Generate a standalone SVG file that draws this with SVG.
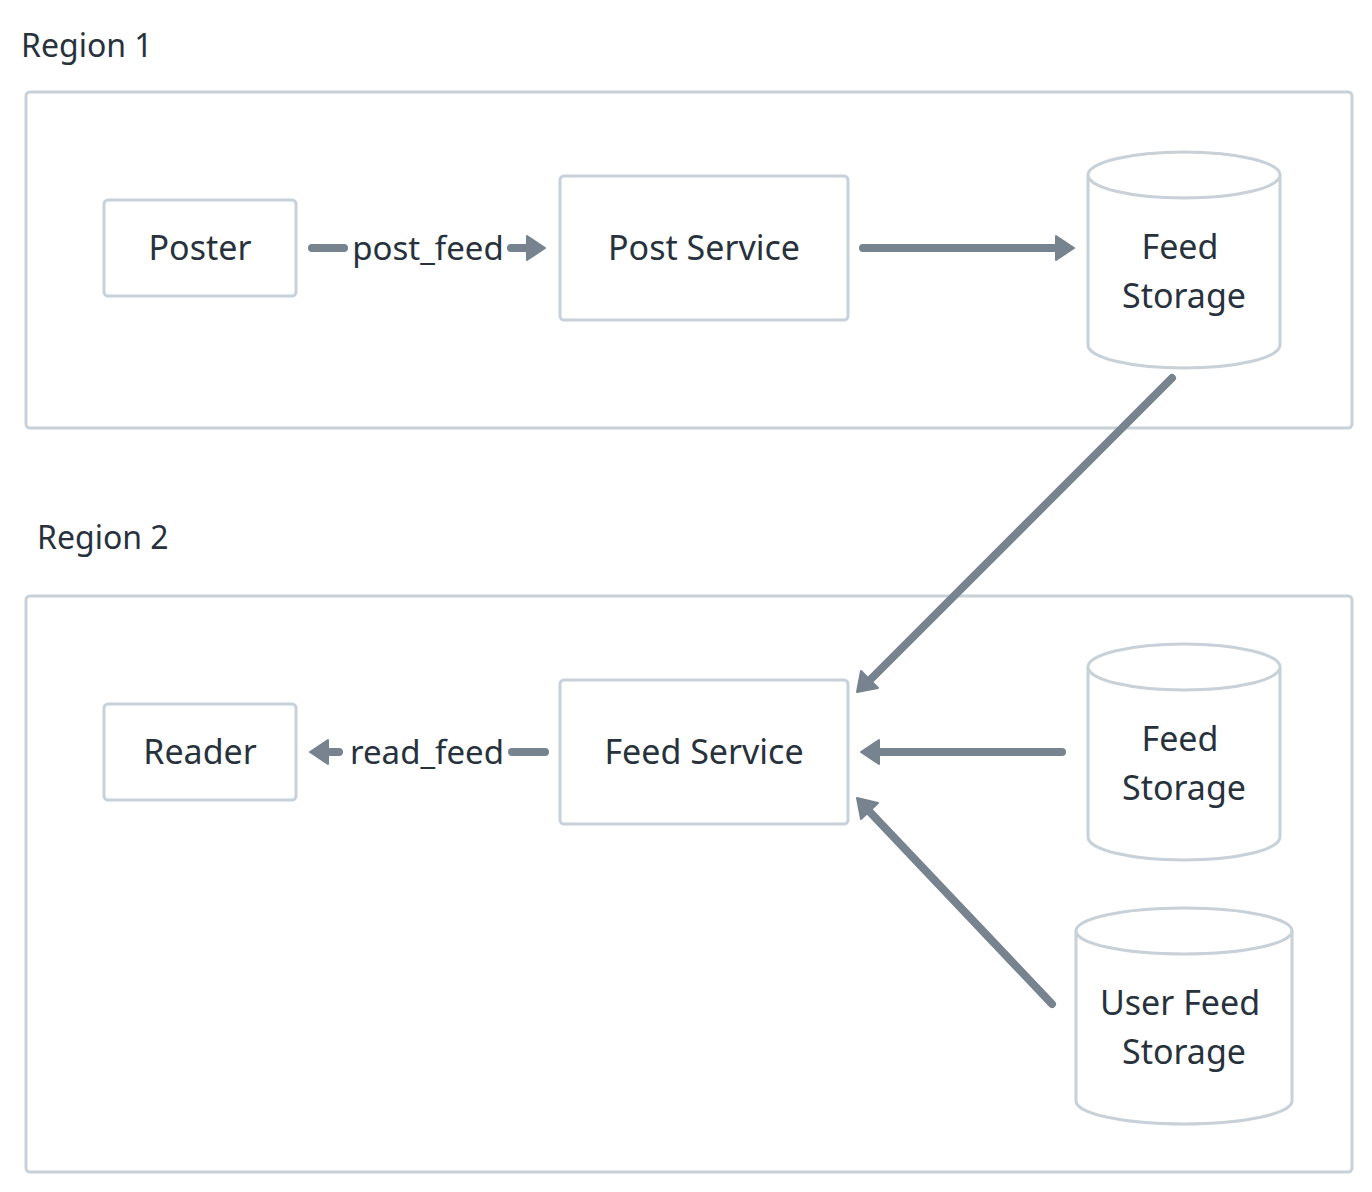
<svg xmlns="http://www.w3.org/2000/svg" width="1372" height="1192" viewBox="0 0 1372 1192">
<defs>
<style>
.region{fill:none;stroke:#c8d0d8;stroke-width:3}
.box{fill:#fff;stroke:#c8d0d8;stroke-width:3}
.t{font-family:"Noto Sans","DejaVu Sans",sans-serif;font-size:34px;fill:#27323d;text-anchor:middle}
.rt{font-family:"Noto Sans","DejaVu Sans",sans-serif;font-size:32px;fill:#27323d}
.edge{fill:none;stroke:#77838f;stroke-width:8;stroke-linecap:round}
.head{fill:#77838f;stroke:#77838f;stroke-width:2;stroke-linejoin:round}
.lbl{font-family:"Noto Sans","DejaVu Sans",sans-serif;font-size:33px;fill:#27323d;text-anchor:middle}
</style>
</defs>
<rect width="1372" height="1192" fill="#fff"/>
<text class="rt" x="21" y="57">Region 1</text>
<rect class="region" x="26" y="92" width="1326" height="336" rx="4"/>
<text class="rt" x="37" y="549">Region 2</text>
<rect class="region" x="26" y="596" width="1326" height="576" rx="4"/>

<g id="poster"><rect class="box" x="104" y="200" width="192" height="96" rx="4"/><text class="t" x="200" y="260">Poster</text></g>
<g id="post-service"><rect class="box" x="560" y="176" width="288" height="144" rx="4"/><text class="t" x="704" y="260">Post Service</text></g>
<g id="feed-storage-1"><path class="box" d="M1088,175 L1088,345 A96,23 0 0 0 1280,345 L1280,175 A96,23 0 0 0 1088,175 Z"/><path class="box" fill="none" d="M1088,175 A96,23 0 0 0 1280,175"/><text class="t" x="1180" y="259">Feed</text><text class="t" x="1184" y="308">Storage</text></g>

<g id="reader"><rect class="box" x="104" y="704" width="192" height="96" rx="4"/><text class="t" x="200" y="764">Reader</text></g>
<g id="feed-service"><rect class="box" x="560" y="680" width="288" height="144" rx="4"/><text class="t" x="704" y="764">Feed Service</text></g>
<g id="feed-storage-2"><path class="box" d="M1088,667 L1088,837 A96,23 0 0 0 1280,837 L1280,667 A96,23 0 0 0 1088,667 Z"/><path class="box" fill="none" d="M1088,667 A96,23 0 0 0 1280,667"/><text class="t" x="1180" y="751">Feed</text><text class="t" x="1184" y="800">Storage</text></g>
<g id="user-feed-storage"><path class="box" d="M1076,931 L1076,1101 A108,23 0 0 0 1292,1101 L1292,931 A108,23 0 0 0 1076,931 Z"/><path class="box" fill="none" d="M1076,931 A108,23 0 0 0 1292,931"/><text class="t" x="1180" y="1015">User Feed</text><text class="t" x="1184" y="1064">Storage</text></g>

<g id="connectors">
<line class="edge" x1="312" y1="248" x2="344" y2="248"/>
<line class="edge" x1="511" y1="248" x2="528" y2="248"/>
<polygon class="head" points="545,248 527,236 527,260"/>
<text class="lbl" x="428" y="260">post_feed</text>

<line class="edge" x1="863" y1="248" x2="1058" y2="248"/>
<polygon class="head" points="1074,248 1056,236 1056,260"/>

<line class="edge" x1="1172" y1="378" x2="870" y2="680"/>
<polygon class="head" points="857,692 878,688 861,671"/>

<line class="edge" x1="545" y1="752" x2="512" y2="752"/>
<line class="edge" x1="339" y1="752" x2="328" y2="752"/>
<polygon class="head" points="310,752 328,740 328,764"/>
<text class="lbl" x="427" y="764">read_feed</text>

<line class="edge" x1="1062" y1="752" x2="878" y2="752"/>
<polygon class="head" points="861,752 879,740 879,764"/>

<line class="edge" x1="1052" y1="1004" x2="868" y2="810"/>
<polygon class="head" points="857,798 878,803 861,819"/>
</g>
</svg>
